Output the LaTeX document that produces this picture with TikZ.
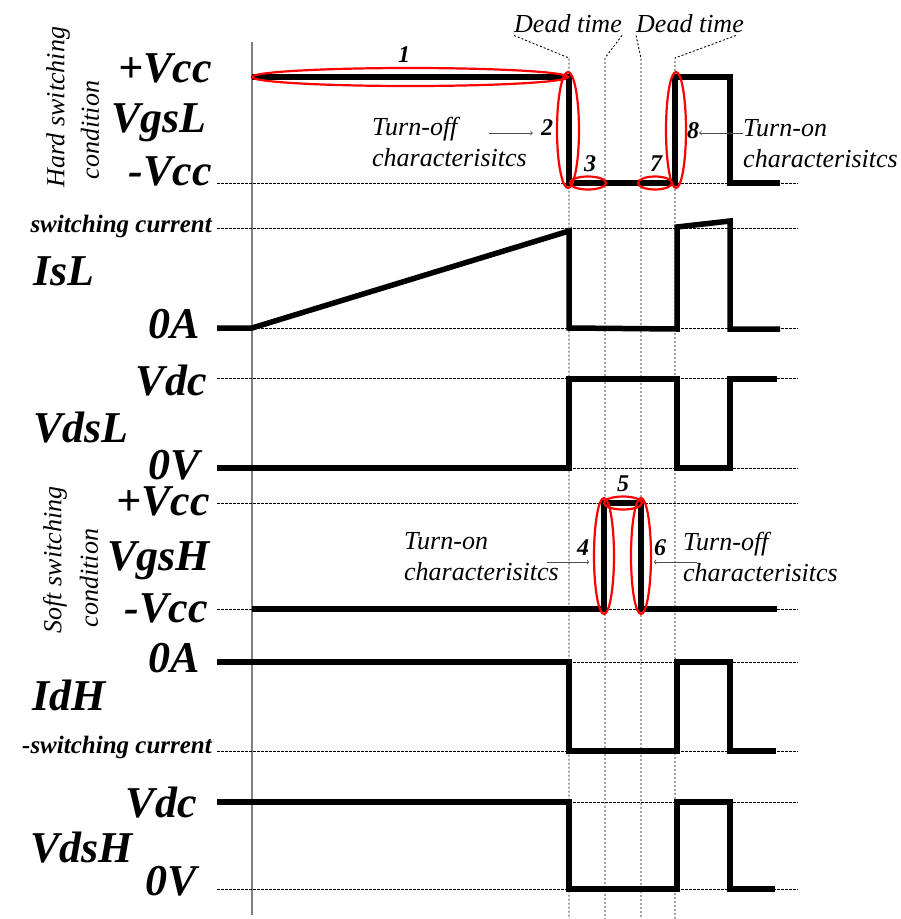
\documentclass[tikz,border=0pt]{standalone}
\usepackage{fontspec}
\setmainfont{Liberation Serif}
\usetikzlibrary{shapes,arrows,positioning,calc}

\begin{document}
\begin{tikzpicture}[x=1pt,y=-1pt,
    wave/.style={line width=5.5pt,line join=miter},
    guide/.style={line width=0.8pt,dash pattern=on 2.5pt off 1.5pt},
    vguide/.style={line width=0.9pt,dash pattern=on 2pt off 2pt},
    big/.style={font=\fontsize{44}{44}\selectfont\bfseries\itshape,inner sep=0pt,text depth=0pt},
    lvl/.style={big,anchor=base east},
    sig/.style={big,anchor=base west},
    small/.style={font=\fontsize{25}{25}\selectfont\bfseries\itshape,inner sep=0pt,anchor=base east},
    note/.style={font=\fontsize{26}{31}\selectfont\itshape,inner sep=0pt,anchor=north west},
    num/.style={font=\fontsize{24}{24}\selectfont\bfseries\itshape,inner sep=0pt},
    cond/.style={font=\fontsize{26}{26}\selectfont\itshape,rotate=90,inner sep=0pt},
    ring/.style={draw=red,line width=2.2pt},
    pointer/.style={->,>=to,draw=black!70,line width=0.8pt}]
    \useasboundingbox (0,0) rectangle (901,919);

    % time axis start and dead time marks
    \draw[black!50,line width=1.3pt] (252,42) -- (252,915);
    \node[note,anchor=base] (dt1) at (568,32) {Dead time};
    \node[note,anchor=base] (dt2) at (690,32) {Dead time};
    \coordinate (t1) at (569,58);
    \coordinate (t2) at (605,58);
    \coordinate (t3) at (641,58);
    \coordinate (t4) at (675,58);
    \draw[vguide] ($(dt1.south west)+(0,3)$) -- (t1) -- (t1 |- 0,919);
    \draw[vguide] ($(dt1.south east)+(0,3)$) -- (t2) -- (t2 |- 0,919);
    \draw[vguide] ($(dt2.south west)+(0,3)$) -- (t3) -- (t3 |- 0,919);
    \draw[vguide] ($(dt2.south east)+(-8,3)$) -- (t4) -- (t4 |- 0,919);

    % level guides
    \foreach \y in {183,228,328,378,468,503,609,662,751,802,889}
        \draw[guide] (217,\y) -- (798,\y);

    % waveforms
    \draw[wave] (252,77) -- (569,77) -- (569,183) -- (675,183) -- (675,77) -- (730,77) -- (730,183) -- (780,183);
    \draw[wave] (217,328) -- (252,328) -- (569,231) -- (569,328) -- (677,329) -- (677,227) -- (730,221) -- (730,329) -- (780,329);
    \draw[wave] (217,468) -- (569,468) -- (569,379) -- (677,379) -- (677,468) -- (730,468) -- (730,379) -- (777,379);
    \draw[wave] (252,609) -- (604,609) -- (604,503) -- (641,503) -- (641,609) -- (777,609);
    \draw[wave] (217,662) -- (569,662) -- (569,751) -- (677,751) -- (677,662) -- (730,662) -- (730,751) -- (776,751);
    \draw[wave] (217,802) -- (569,802) -- (569,889) -- (677,889) -- (677,802) -- (730,802) -- (730,889) -- (775,889);

    % left labels
    \node[cond] (hardA) at (58,107) {Hard switching};
    \node[cond] (hardB) at (90,130) {condition};
    \node[cond] (softA) at (55,560) {Soft switching};
    \node[cond] (softB) at (89,578) {condition};

    \node[lvl] (vccLp) at (212,82) {+Vcc};
    \node[lvl] (vgsL) at (207,132) {VgsL};
    \node[lvl] (vccLn) at (212,185) {-Vcc};
    \node[small] (swL) at (212,232) {switching current};
    \node[sig] (isL) at (33,285) {IsL};
    \node[lvl] (zeroAL) at (200,338) {0A};
    \node[lvl] (vdcL) at (207,395) {Vdc};
    \node[sig] (vdsL) at (33,442) {VdsL};
    \node[lvl] (zeroVL) at (200,479) {0V};

    \node[lvl] (vccHp) at (210,515) {+Vcc};
    \node[lvl] (vgsH) at (210,570) {VgsH};
    \node[lvl] (vccHn) at (208,622) {-Vcc};
    \node[lvl] (zeroAH) at (200,672) {0A};
    \node[sig] (idH) at (32,710) {IdH};
    \node[small] (swH) at (212,753) {-switching current};
    \node[lvl] (vdcH) at (197,817) {Vdc};
    \node[sig] (vdsH) at (30,862) {VdsH};
    \node[lvl] (zeroVH) at (197,895) {0V};

    % switching intervals
    \draw[ring] (410,77) ellipse [x radius=158,y radius=9];
    \draw[ring] (568,130) ellipse [x radius=11,y radius=58];
    \draw[ring] (588,183) ellipse [x radius=18,y radius=6.5];
    \draw[ring] (655,183) ellipse [x radius=17,y radius=6.5];
    \draw[ring] (676,130) ellipse [x radius=10,y radius=58];
    \draw[ring] (604,556) ellipse [x radius=10,y radius=58];
    \draw[ring] (623,503) ellipse [x radius=19,y radius=6.5];
    \draw[ring] (641,556) ellipse [x radius=10,y radius=58];

    \node[num] (n1) at (404,55) {1};
    \node[num] (n2) at (547,128) {2};
    \node[num] (n3) at (590,164) {3};
    \node[num] (n4) at (583,548) {4};
    \node[num] (n5) at (623,484) {5};
    \node[num] (n6) at (660,548) {6};
    \node[num] (n7) at (656,164) {7};
    \node[num] (n8) at (693,131) {8};

    % characteristics notes
    \node[note,align=left] (offL) at (372,117) {Turn-off\\characterisitcs};
    \node[note,align=left] (onL) at (743,119) {Turn-on\\characterisitcs};
    \node[note,align=left] (onH) at (404,532) {Turn-on\\characterisitcs};
    \node[note,align=left] (offH) at (683,532) {Turn-off\\characterisitcs};

    \coordinate (offLtail) at (489,133);
    \coordinate (onLtail) at (743,133);
    \coordinate (onHtail) at (547,562);
    \coordinate (offHtail) at (697,562);
    \draw[pointer,shorten >=8pt] (offLtail) -- (offLtail -| n2.west);
    \draw[pointer] (onLtail) -- (onLtail -| n8.east);
    \draw[pointer] (onHtail) -- (onHtail -| n4.east);
    \draw[pointer] (offHtail) -- (offHtail -| n6.west);
\end{tikzpicture}
\end{document}
